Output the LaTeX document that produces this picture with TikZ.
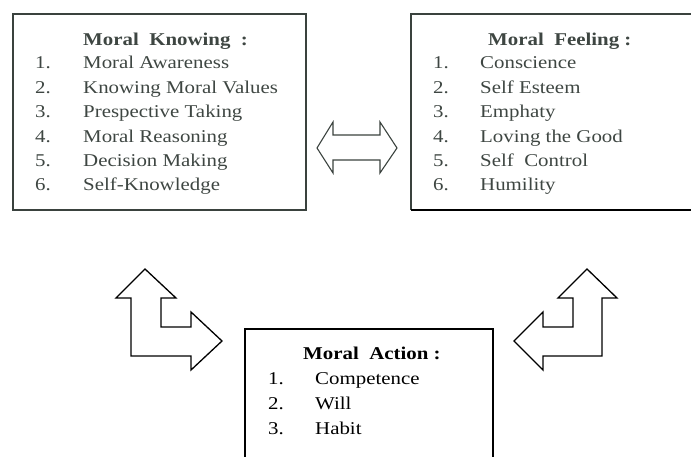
\documentclass[tikz,border=0pt]{standalone}
\usepackage{fontspec}
\setmainfont[FakeStretch=1.16]{Liberation Serif}
\definecolor{topcol}{RGB}{58,66,62}
\definecolor{toptext}{RGB}{62,70,66}
\tikzset{
  boxline/.style={draw=topcol, line width=1.1pt},
  botline/.style={draw=black, line width=1.4pt},
  bigarrow/.style={draw=black, line width=1.3pt, line join=miter, fill=white},
  midarrow/.style={draw=topcol, line width=1.1pt, line join=miter},
  itm/.style={anchor=base west, inner sep=0pt, font=\fontsize{18}{20}\selectfont},
  ttl/.style={anchor=base west, inner sep=0pt, font=\fontsize{18}{20}\selectfont\bfseries},
}
\begin{document}
\begin{tikzpicture}[x=1pt,y=-1pt]
\useasboundingbox (0,0) rectangle (691,457);
% left box
\draw[boxline] (13,14) rectangle (306,210);
\node[ttl, text=toptext] (kt) at (83,46) {Moral\ \ Knowing\ \ :};
\foreach \i/\t in {1/Moral Awareness,2/Knowing Moral Values,3/Prespective Taking,4/Moral Reasoning,5/Decision Making,6/Self-Knowledge}{
  \node[itm, text=toptext] (kn\i) at (35,{63+24.4*(\i-1)+6}) {\i.};
  \node[itm, text=toptext] (kx\i) at (83,{63+24.4*(\i-1)+6}) {\t};
}
% right box
\draw[boxline] (693,14) -- (411,14) -- (411,210);
\draw[line width=1.8pt, black] (411,210) -- (693,210);
\node[ttl, text=toptext] (ft) at (488,46) {Moral\ \ Feeling :};
\foreach \i/\t in {1/Conscience,2/Self Esteem,3/Emphaty,4/Loving the Good,5/Self\ \ Control,6/Humility}{
  \node[itm, text=toptext] (fn\i) at (433,{63+24.4*(\i-1)+6}) {\i.};
  \node[itm, text=toptext] (fx\i) at (480,{63+24.4*(\i-1)+6}) {\t};
}
% double arrow
\draw[midarrow] (317,148) -- (333,122) -- (333,135) -- (380,135) -- (380,122) -- (397,148)
  -- (380,173) -- (380,160) -- (333,160) -- (333,173) -- cycle;
% left bent arrow
\draw[bigarrow] (145,269) -- (176,298) -- (161,298) -- (161,327) -- (191,327) -- (191,312)
  -- (222,341) -- (191,370) -- (191,356) -- (131,356) -- (131,298) -- (116,298) -- cycle;
% right bent arrow
\draw[bigarrow] (587,269) -- (617,298) -- (602,298) -- (602,356) -- (543,356) -- (543,370)
  -- (514,341) -- (543,312) -- (543,327) -- (573,327) -- (573,298) -- (558,298) -- cycle;
% bottom box
\draw[botline] (245,460) -- (245,329) -- (493,329) -- (493,460);
\node[ttl] (at) at (303,359) {Moral\ \ Action :};
\foreach \i/\t in {1/Competence,2/Will,3/Habit}{
  \node[itm] (an\i) at (268,{378+25*(\i-1)+6}) {\i.};
  \node[itm] (ax\i) at (315,{378+25*(\i-1)+6}) {\t};
}
\end{tikzpicture}
\end{document}
